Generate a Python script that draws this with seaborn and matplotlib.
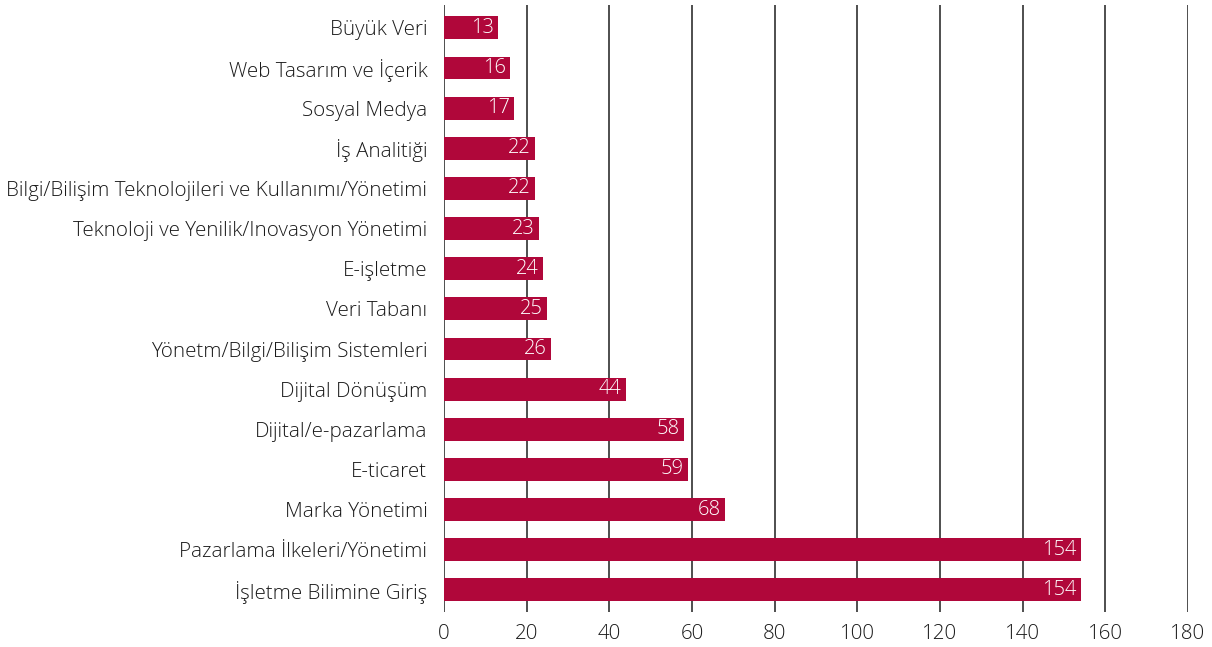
import matplotlib
matplotlib.use("Agg")
import matplotlib.pyplot as plt
import seaborn as sns
import pandas as pd

# Data (top to bottom)
courses = [
    "Büyük Veri",
    "Web Tasarım ve İçerik",
    "Sosyal Medya",
    "İş Analitiği",
    "Bilgi/Bilişim Teknolojileri ve Kullanımı/Yönetimi",
    "Teknoloji ve Yenilik/Inovasyon Yönetimi",
    "E-işletme",
    "Veri Tabanı",
    "Yönetm/Bilgi/Bilişim Sistemleri",
    "Dijital Dönüşüm",
    "Dijital/e-pazarlama",
    "E-ticaret",
    "Marka Yönetimi",
    "Pazarlama İlkeleri/Yönetimi",
    "İşletme Bilimine Giriş",
]
counts = [13, 16, 17, 22, 22, 23, 24, 25, 26, 44, 58, 59, 68, 154, 154]
x_ticks = [0, 20, 40, 60, 80, 100, 120, 140, 160, 180]

bar_color = "#B0073A"
grid_color = "#404040"
text_color = "#1a1a1a"

df = pd.DataFrame({"course": courses, "count": counts})

sns.set_style("white")
plt.rcParams["font.family"] = ["Open Sans", "DejaVu Sans"]
plt.rcParams["font.weight"] = "light"

fig = plt.figure(figsize=(12.12, 6.47), dpi=100)
ax = fig.add_axes([0.3663, 0.0541, 0.9802 - 0.3663, 0.9923 - 0.0541])

sns.barplot(data=df, x="count", y="course", color=bar_color, saturation=1,
            width=0.57, linewidth=0, edgecolor="none", ax=ax, zorder=3)

# value labels inside bar ends
for i, v in enumerate(counts):
    ax.text(v - 1.0, i, str(v), ha="right", va="center", color="white",
            fontsize=14.5, zorder=4)

ax.set_xlim(0, 180)
ax.set_ylim(14.55, -0.57)
ax.set_xticks(x_ticks)
for x in x_ticks:
    ax.axvline(x, color=grid_color, linewidth=1.3, zorder=2)

ax.set_xlabel("")
ax.set_ylabel("")
for s in ax.spines.values():
    s.set_visible(False)
ax.tick_params(axis="both", length=0, labelsize=14.8, colors=text_color)
ax.tick_params(axis="x", pad=9)
ax.tick_params(axis="y", pad=12)

plt.savefig("out.png", dpi=100)
plt.close()
